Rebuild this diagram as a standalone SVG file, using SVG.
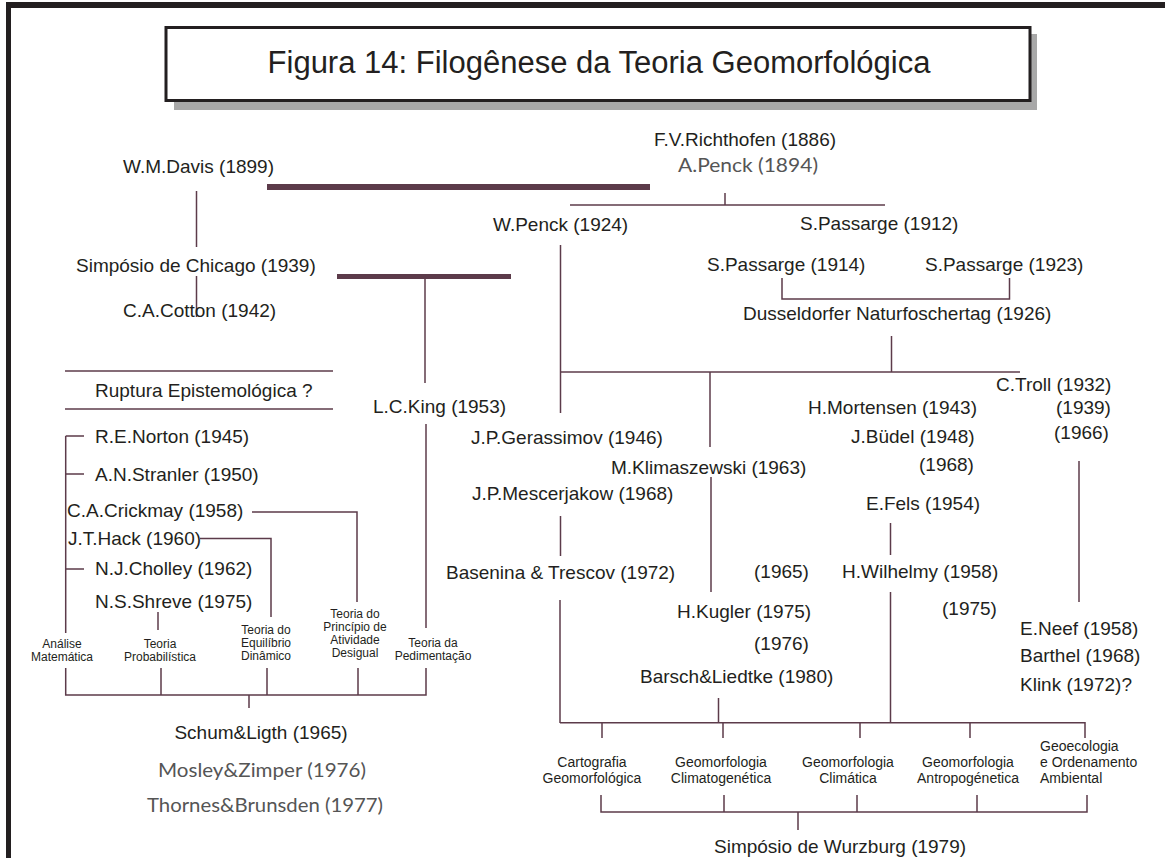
<svg xmlns="http://www.w3.org/2000/svg" width="1165" height="858" viewBox="0 0 1165 858">
<style>
.t{font-family:"Liberation Sans",Arial,sans-serif;font-size:19px;fill:#231f20}
.g{font-family:Lato,"Liberation Sans",sans-serif;font-size:19px;fill:#555}
.s{font-family:"Liberation Sans",Arial,sans-serif;font-size:12px;fill:#231f20;text-anchor:middle}
.m{font-family:"Liberation Sans",Arial,sans-serif;font-size:14px;fill:#231f20;text-anchor:middle}
.ms{font-family:"Liberation Sans",Arial,sans-serif;font-size:14px;fill:#231f20;text-anchor:start}
.ln{stroke:#5c3b4a;stroke-width:1.5;fill:none}
.bar{stroke:#5c3b4a;fill:none}
</style>
<rect x="0" y="0" width="1165" height="858" fill="#fff"/>
<g id="frame">
<rect x="6" y="2" width="1159" height="6" fill="#231f20"/>
<rect x="6" y="2" width="5" height="856" fill="#231f20"/>
</g>
<g id="title">
<rect x="174" y="34" width="863" height="76" fill="#a8a8a8"/>
<rect x="166" y="27.5" width="864" height="73" fill="#fff" stroke="#231f20" stroke-width="3"/>
<text x="599" y="73" font-family="'Liberation Sans',Arial,sans-serif" font-size="31" fill="#231f20" text-anchor="middle">Figura 14: Filogênese da Teoria Geomorfológica</text>
</g>
<g id="connectors">
<line class="bar" x1="267" y1="187" x2="650" y2="187" stroke-width="6"/>
<line class="bar" x1="337" y1="276.5" x2="511" y2="276.5" stroke-width="5"/>
<line class="ln" x1="196.5" y1="191" x2="196.5" y2="247"/>
<line class="ln" x1="196.5" y1="276" x2="196.5" y2="317"/>
<line class="ln" x1="425" y1="279" x2="425" y2="383"/>
<line class="ln" x1="426" y1="424" x2="426" y2="628"/>
<line class="ln" x1="725" y1="193" x2="725" y2="205"/>
<line class="ln" x1="570" y1="205" x2="885" y2="205"/>
<path class="ln" d="M782 278V299H1009.5V278"/>
<line class="ln" x1="891.5" y1="336" x2="891.5" y2="372"/>
<line class="ln" x1="560" y1="372" x2="1020" y2="372"/>
<line class="ln" x1="560.5" y1="245" x2="560.5" y2="413"/>
<line class="ln" x1="710" y1="372" x2="710" y2="447"/>
<line class="ln" x1="711" y1="477" x2="711" y2="592"/>
<line class="ln" x1="560.5" y1="516" x2="560.5" y2="556"/>
<line class="ln" x1="890.5" y1="523" x2="890.5" y2="555"/>
<line class="ln" x1="1079" y1="461" x2="1079" y2="602"/>
<line class="ln" x1="560" y1="600" x2="560" y2="723"/>
<line class="ln" x1="718.5" y1="698" x2="718.5" y2="723"/>
<line class="ln" x1="890.5" y1="592" x2="890.5" y2="723"/>
<path class="ln" d="M560 722.7H1085V738M602 722.7V738M723 722.7V738M860 722.7V738M970 722.7V738"/>
<path class="ln" d="M601 795V812H1087V795M724 812V795M857 812V795M977 812V795M798 812V830"/>
<line class="ln" x1="65" y1="371" x2="333" y2="371"/>
<line class="ln" x1="65" y1="409" x2="333" y2="409"/>
<path class="ln" d="M65.7 436V633M65.7 436H84M65.7 474H84M65.7 569H84"/>
<path class="ln" d="M252 512H357V602"/>
<path class="ln" d="M200 538.5H271V617"/>
<line class="ln" x1="158" y1="612" x2="158" y2="630"/>
<path class="ln" d="M65.7 668V695H426V668M161 668V695M267 668V695M358 668V695M249 695V708"/>
</g>
<g id="davis"><text class="t" x="123" y="173">W.M.Davis (1899)</text></g>
<g id="richthofen"><text class="t" x="654" y="146">F.V.Richthofen (1886)</text></g>
<g id="apenck"><text class="g" x="748" y="172" text-anchor="middle" textLength="140" lengthAdjust="spacingAndGlyphs">A.Penck (1894)</text></g>
<g id="wpenck"><text class="t" x="493" y="231">W.Penck (1924)</text></g>
<g id="passarge1912"><text class="t" x="800" y="230">S.Passarge (1912)</text></g>
<g id="chicago"><text class="t" x="76" y="272">Simpósio de Chicago (1939)</text></g>
<g id="passarge1914"><text class="t" x="707" y="271">S.Passarge (1914)</text></g>
<g id="passarge1923"><text class="t" x="925" y="271">S.Passarge (1923)</text></g>
<g id="cotton"><text class="t" x="123" y="317">C.A.Cotton (1942)</text></g>
<g id="dusseldorf"><text class="t" x="743" y="320">Dusseldorfer Naturfoschertag (1926)</text></g>
<g id="ruptura"><text class="t" x="95" y="397">Ruptura Epistemológica ?</text></g>
<g id="troll">
<text class="t" x="996" y="391">C.Troll (1932)</text>
<text class="t" x="1056" y="414">(1939)</text>
<text class="t" x="1054" y="439">(1966)</text>
</g>
<g id="mortensen"><text class="t" x="808" y="414">H.Mortensen (1943)</text></g>
<g id="king"><text class="t" x="373" y="413">L.C.King (1953)</text></g>
<g id="norton"><text class="t" x="95" y="443">R.E.Norton (1945)</text></g>
<g id="gerassimov"><text class="t" x="471" y="444">J.P.Gerassimov (1946)</text></g>
<g id="budel">
<text class="t" x="851" y="443">J.Büdel (1948)</text>
<text class="t" x="919" y="471">(1968)</text>
</g>
<g id="klimaszewski"><text class="t" x="611" y="474">M.Klimaszewski (1963)</text></g>
<g id="stranler"><text class="t" x="95" y="481">A.N.Stranler (1950)</text></g>
<g id="mescerjakow"><text class="t" x="472" y="500">J.P.Mescerjakow (1968)</text></g>
<g id="fels"><text class="t" x="866" y="510">E.Fels (1954)</text></g>
<g id="crickmay"><text class="t" x="67" y="517">C.A.Crickmay (1958)</text></g>
<g id="hack"><text class="t" x="68" y="545">J.T.Hack (1960)</text></g>
<g id="cholley"><text class="t" x="95" y="575">N.J.Cholley (1962)</text></g>
<g id="basenina"><text class="t" x="446" y="579">Basenina &amp; Trescov (1972)</text></g>
<g id="y1965"><text class="t" x="754" y="578">(1965)</text></g>
<g id="wilhelmy">
<text class="t" x="842" y="578">H.Wilhelmy (1958)</text>
<text class="t" x="942" y="615">(1975)</text>
</g>
<g id="shreve"><text class="t" x="95" y="608">N.S.Shreve (1975)</text></g>
<g id="kugler">
<text class="t" x="677" y="618">H.Kugler (1975)</text>
<text class="t" x="754" y="650">(1976)</text>
</g>
<g id="neef">
<text class="t" x="1020" y="635">E.Neef (1958)</text>
<text class="t" x="1020" y="662">Barthel (1968)</text>
<text class="t" x="1020" y="691">Klink (1972)?</text>
</g>
<g id="barsch"><text class="t" x="640" y="683">Barsch&amp;Liedtke (1980)</text></g>
<g id="analise"><text class="s" x="62" y="648">Análise<tspan x="62" y="661">Matemática</tspan></text></g>
<g id="probabilistica"><text class="s" x="160" y="648">Teoria<tspan x="160" y="661">Probabilística</tspan></text></g>
<g id="equilibrio"><text class="s" x="266" y="634">Teoria do<tspan x="266" y="647">Equilíbrio</tspan><tspan x="266" y="660">Dinâmico</tspan></text></g>
<g id="principio"><text class="s" x="355" y="618">Teoria do<tspan x="355" y="631">Princípio de</tspan><tspan x="355" y="644">Atividade</tspan><tspan x="355" y="657">Desigual</tspan></text></g>
<g id="pedimentacao"><text class="s" x="433" y="647">Teoria da<tspan x="433" y="660">Pedimentação</tspan></text></g>
<g id="schum"><text class="t" x="261" y="739" text-anchor="middle">Schum&amp;Ligth (1965)</text></g>
<g id="mosley"><text class="g" x="262" y="777" text-anchor="middle" textLength="208" lengthAdjust="spacingAndGlyphs">Mosley&amp;Zimper (1976)</text></g>
<g id="thornes"><text class="g" x="265" y="812" text-anchor="middle" textLength="236" lengthAdjust="spacingAndGlyphs">Thornes&amp;Brunsden (1977)</text></g>
<g id="cartografia"><text class="m" x="592" y="767">Cartografia<tspan x="592" y="783">Geomorfológica</tspan></text></g>
<g id="climatogenetica"><text class="m" x="721" y="767">Geomorfologia<tspan x="721" y="783">Climatogenética</tspan></text></g>
<g id="climatica"><text class="m" x="848" y="767">Geomorfologia<tspan x="848" y="783">Climática</tspan></text></g>
<g id="antropogenetica"><text class="m" x="968" y="767">Geomorfologia<tspan x="968" y="783">Antropogénetica</tspan></text></g>
<g id="geoecologia"><text class="ms" x="1040" y="751">Geoecologia<tspan x="1040" y="767">e Ordenamento</tspan><tspan x="1040" y="783">Ambiental</tspan></text></g>
<g id="wurzburg"><text class="t" x="714" y="853">Simpósio de Wurzburg (1979)</text></g>
</svg>
